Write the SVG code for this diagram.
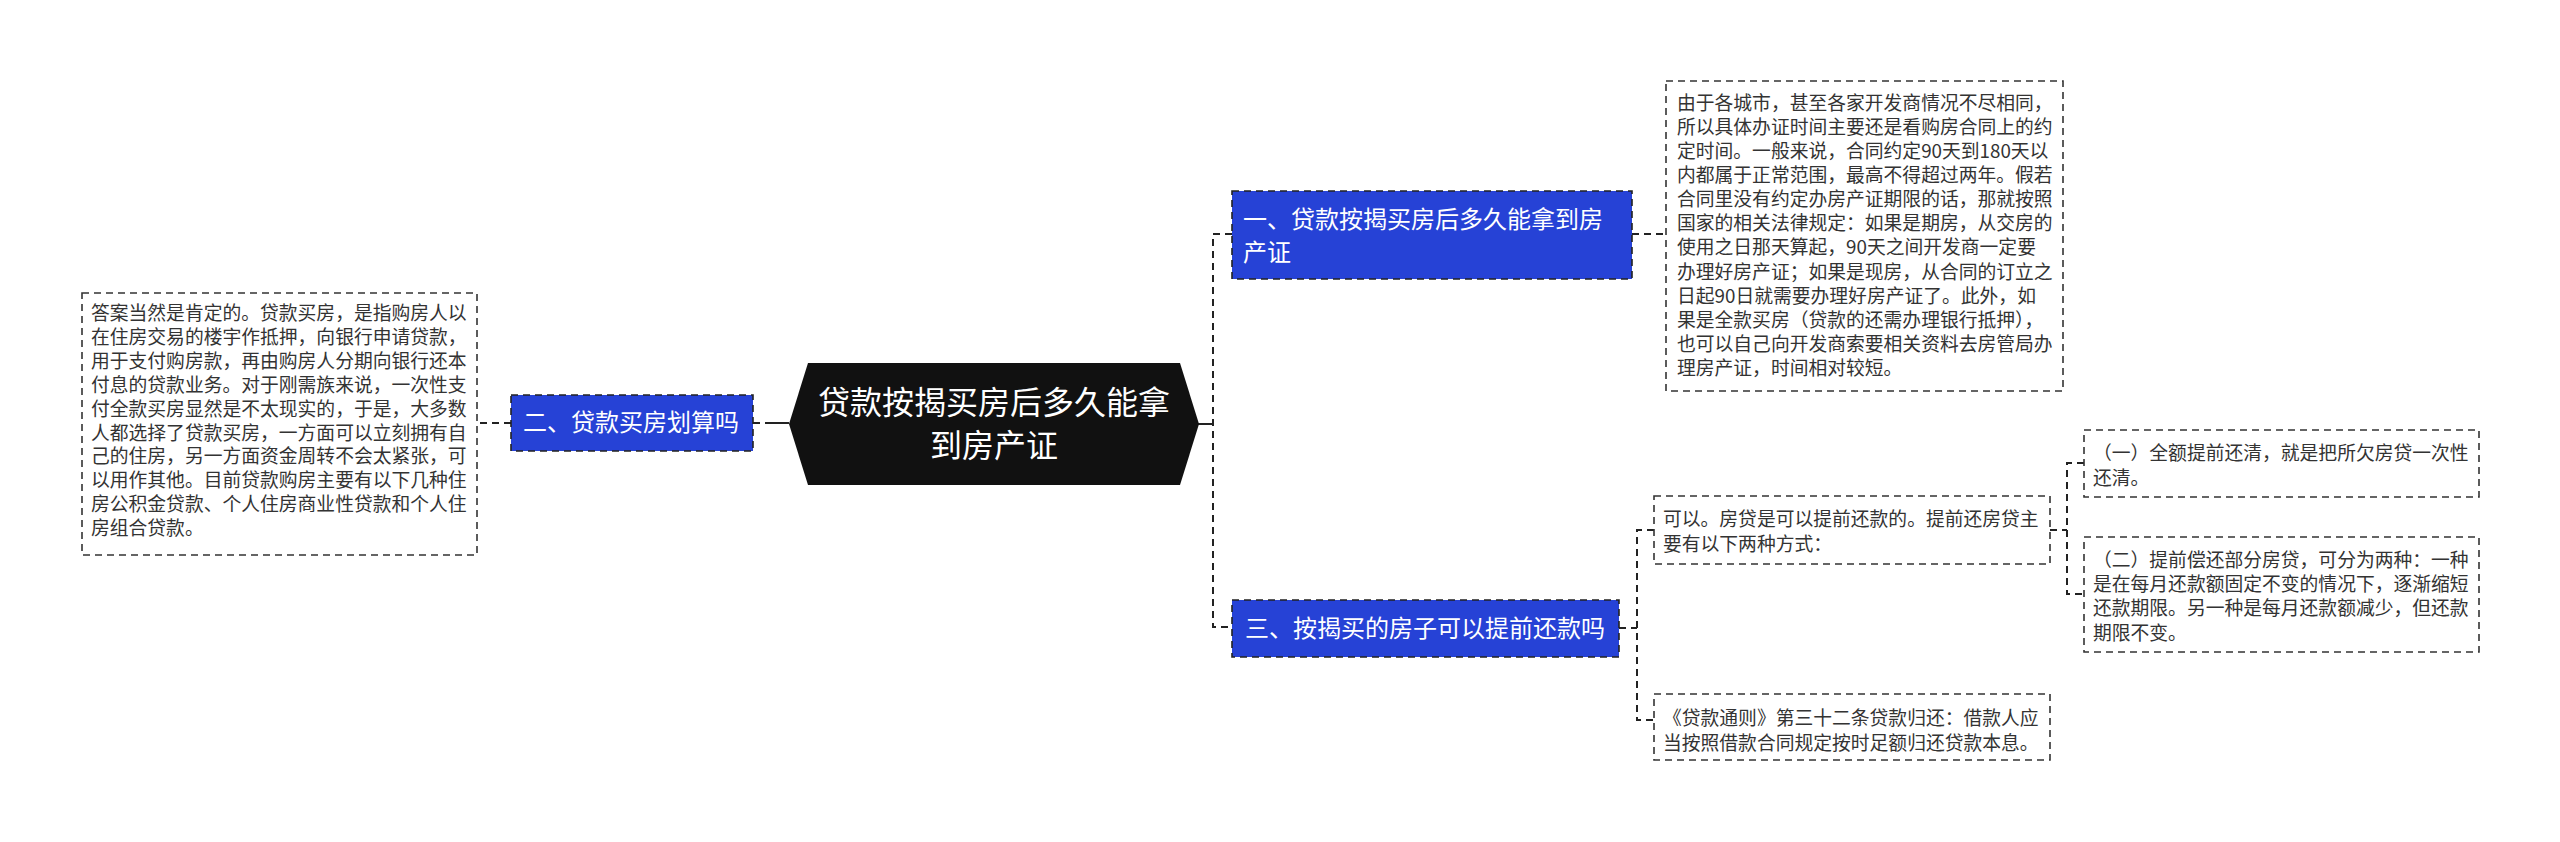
<svg xmlns="http://www.w3.org/2000/svg" width="2560" height="842" viewBox="0 0 2560 842">
<style>
.t{font-family:"Noto Sans CJK SC","Noto Sans",sans-serif;fill:#333;font-size:18.8px}
.w{font-family:"Noto Sans CJK SC","Noto Sans",sans-serif;fill:#fff;font-size:24px}
.c{font-family:"Noto Sans CJK SC","Noto Sans",sans-serif;fill:#fff;font-size:32px}
.box{fill:#fff;stroke:#333;stroke-width:1.6;stroke-dasharray:7 5}
.blue{fill:#2642D6;stroke:#222;stroke-width:1.6;stroke-dasharray:7 5}
.dl{fill:none;stroke:#222;stroke-width:2;stroke-dasharray:7 5}
.sl{fill:none;stroke:#222;stroke-width:2}
</style>
<rect width="2560" height="842" fill="#fff"/>
<g id="connectors">
<path class="sl" d="M1198 424 H1213"/>
<path class="dl" d="M1232 234 H1213 V627 H1232"/>
<path class="dl" d="M753 423 H768"/>
<path class="sl" d="M768 423 H789"/>
<path class="dl" d="M511 423 H477"/>
<path class="dl" d="M1632 234 H1666"/>
<path class="dl" d="M1619 628 H1637"/>
<path class="dl" d="M1654 530 H1637 V720 H1654"/>
<path class="dl" d="M2050 530 H2067"/>
<path class="dl" d="M2084 463 H2067 V594 H2084"/>
</g>
<g id="center">
<polygon points="808,363 1180,363 1199,424 1180,485 808,485 789,424" fill="#111"/>
<text class="c" x="994" y="414" text-anchor="middle">贷款按揭买房后多久能拿</text>
<text class="c" x="994" y="457" text-anchor="middle">到房产证</text>
</g>
<g id="n2">
<rect class="blue" x="511" y="395" width="242" height="56"/>
<text class="w" x="523" y="431">二、贷款买房划算吗</text>
</g>
<g id="n2a">
<rect class="box" x="82" y="293" width="395" height="262"/>
<text class="t" x="91" y="320">答案当然是肯定的。贷款买房，是指购房人以</text>
<text class="t" x="91" y="344">在住房交易的楼宇作抵押，向银行申请贷款，</text>
<text class="t" x="91" y="368">用于支付购房款，再由购房人分期向银行还本</text>
<text class="t" x="91" y="392">付息的贷款业务。对于刚需族来说，一次性支</text>
<text class="t" x="91" y="416">付全款买房显然是不太现实的，于是，大多数</text>
<text class="t" x="91" y="440">人都选择了贷款买房，一方面可以立刻拥有自</text>
<text class="t" x="91" y="463">己的住房，另一方面资金周转不会太紧张，可</text>
<text class="t" x="91" y="487">以用作其他。目前贷款购房主要有以下几种住</text>
<text class="t" x="91" y="511">房公积金贷款、个人住房商业性贷款和个人住</text>
<text class="t" x="91" y="535">房组合贷款。</text>
</g>
<g id="n1">
<rect class="blue" x="1232" y="191" width="400" height="88"/>
<text class="w" x="1243" y="228">一、贷款按揭买房后多久能拿到房</text>
<text class="w" x="1243" y="261">产证</text>
</g>
<g id="n1a">
<rect class="box" x="1666" y="81" width="397" height="310"/>
<text class="t" x="1677" y="110">由于各城市，甚至各家开发商情况不尽相同，</text>
<text class="t" x="1677" y="134">所以具体办证时间主要还是看购房合同上的约</text>
<text class="t" x="1677" y="158">定时间。一般来说，合同约定90天到180天以</text>
<text class="t" x="1677" y="182">内都属于正常范围，最高不得超过两年。假若</text>
<text class="t" x="1677" y="206">合同里没有约定办房产证期限的话，那就按照</text>
<text class="t" x="1677" y="230">国家的相关法律规定：如果是期房，从交房的</text>
<text class="t" x="1677" y="254">使用之日那天算起，90天之间开发商一定要</text>
<text class="t" x="1677" y="279">办理好房产证；如果是现房，从合同的订立之</text>
<text class="t" x="1677" y="303">日起90日就需要办理好房产证了。此外，如</text>
<text class="t" x="1677" y="327">果是全款买房（贷款的还需办理银行抵押），</text>
<text class="t" x="1677" y="351">也可以自己向开发商索要相关资料去房管局办</text>
<text class="t" x="1677" y="375">理房产证，时间相对较短。</text>
</g>
<g id="n3">
<rect class="blue" x="1232" y="600" width="387" height="57"/>
<text class="w" x="1245" y="637">三、按揭买的房子可以提前还款吗</text>
</g>
<g id="n3a">
<rect class="box" x="1654" y="496" width="396" height="68"/>
<text class="t" x="1663" y="526">可以。房贷是可以提前还款的。提前还房贷主</text>
<text class="t" x="1663" y="551">要有以下两种方式：</text>
</g>
<g id="n3a1">
<rect class="box" x="2084" y="430" width="395" height="67"/>
<text class="t" x="2093" y="460">（一）全额提前还清，就是把所欠房贷一次性</text>
<text class="t" x="2093" y="485">还清。</text>
</g>
<g id="n3a2">
<rect class="box" x="2084" y="537" width="395" height="115"/>
<text class="t" x="2093" y="567">（二）提前偿还部分房贷，可分为两种：一种</text>
<text class="t" x="2093" y="591">是在每月还款额固定不变的情况下，逐渐缩短</text>
<text class="t" x="2093" y="615">还款期限。另一种是每月还款额减少，但还款</text>
<text class="t" x="2093" y="640">期限不变。</text>
</g>
<g id="n3b">
<rect class="box" x="1654" y="694" width="396" height="66"/>
<text class="t" x="1663" y="725">《贷款通则》第三十二条贷款归还：借款人应</text>
<text class="t" x="1663" y="750">当按照借款合同规定按时足额归还贷款本息。</text>
</g>
</svg>
